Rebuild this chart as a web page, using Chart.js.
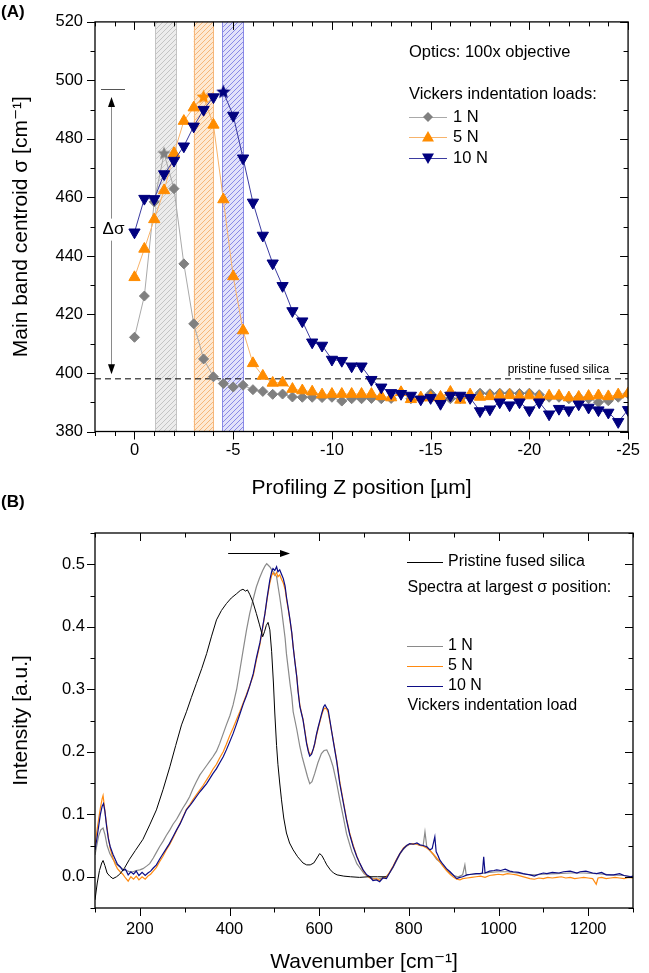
<!DOCTYPE html>
<html><head><meta charset="utf-8">
<script src="https://cdn.jsdelivr.net/npm/chart.js@4.4.1/dist/chart.umd.min.js"></script>
<style>
html,body{margin:0;padding:0;background:#fff;}
#wrap{position:relative;width:649px;height:973px;overflow:hidden;background:#fff;}
canvas{position:absolute;left:0;}
#cA{top:0;}
#cB{top:490px;}
</style></head><body>
<div id="wrap"><canvas id="cA" width="649" height="510"></canvas><canvas id="cB" width="649" height="483"></canvas></div>
<script>
// ---------- Panel A data ----------
const zA = [0,-0.5,-1,-1.5,-2,-2.5,-3,-3.5,-4,-4.5,-5,-5.5,-6,-6.5,-7,-7.5,-8,-8.5,-9,-9.5,-10,-10.5,-11,-11.5,-12,-12.5,-13,-13.5,-14,-14.5,-15,-15.5,-16,-16.5,-17,-17.5,-18,-18.5,-19,-19.5,-20,-20.5,-21,-21.5,-22,-22.5,-23,-23.5,-24,-24.5,-25];
const n1A = [412.2,426.3,458.5,475.0,463.0,437.3,416.8,404.8,398.7,396.4,395.2,395.8,394.3,393.7,392.7,392.8,391.8,391.7,391.7,391.6,391.7,390.4,391.2,391.2,391.3,391.2,391.3,393.2,391.2,391.3,392.9,391.7,391.2,391.3,391.7,393.1,392.9,393.1,393.1,393.0,393.1,392.6,391.7,391.7,391.2,391.7,391.2,390.0,390.5,391.7,392.9];
const n5A = [432.7,442.4,452.5,462.4,475.1,486.1,490.7,494.3,484.8,459.3,433.0,414.5,403.3,399.0,396.6,396.7,394.5,394.0,393.6,392.6,392.8,392.8,392.8,392.8,392.8,392.0,391.6,393.4,391.0,391.6,391.6,391.8,393.5,390.8,392.6,391.8,392.0,392.3,392.4,392.0,392.3,391.7,392.2,392.2,391.6,391.8,392.1,392.3,392.0,392.6,393.0];
const n10A = [448.1,459.6,459.5,468.0,472.6,477.5,484.3,490.0,494.3,496.0,488.0,473.4,458.3,447.0,437.5,429.8,421.2,417.7,410.5,409.4,404.6,404.2,402.3,402.3,397.7,395.1,393.2,392.9,392.3,391.0,391.5,389.5,392.3,392.3,391.5,387.0,387.6,390.0,389.0,390.0,387.3,390.0,385.9,387.8,387.3,389.3,388.2,387.3,386.5,383.3,387.4];
const peakIdxA = [3, 7, 9];            // index of the star-marked (largest sigma) point: 1 N, 5 N, 10 N
const xTicksA = [0,-5,-10,-15,-20,-25];
const yTicksA = [380,400,420,440,460,480,500,520];
const bandsA = [[-1.05,-2.1],[-3,-4],[-4.45,-5.5]];
const pristineSigma = 398;
const deltaSigma = {top: 497.2, arrowTop: 494.3, arrowBottom: 399.6, textAt: 449};

// ---------- Panel B data ([wavenumber, intensity]) ----------
const pristineB = [[100,-0.037],[105,-0.01],[110,0.01],[115,0.022],[118,0.026],[122,0.018],[127,0.006],[133,0.001],[140,-0.003],[148,0.0],[155,0.004],[165,0.013],[177,0.028],[190,0.042],[207,0.06],[222,0.083],[237,0.107],[252,0.14],[267,0.176],[280,0.21],[293,0.243],[304,0.264],[315,0.287],[326,0.309],[338,0.333],[349,0.357],[360,0.385],[371,0.411],[382,0.426],[393,0.437],[404,0.446],[416,0.453],[424,0.458],[430,0.46],[436,0.457],[440,0.459],[445,0.452],[452,0.44],[460,0.421],[467,0.403],[474,0.384],[478,0.392],[482,0.402],[486,0.407],[490,0.395],[494,0.36],[498,0.31],[501,0.262],[505,0.21],[508,0.18],[512,0.15],[516,0.123],[521,0.094],[527,0.07],[534,0.054],[542,0.043],[552,0.032],[564,0.022],[572,0.019],[580,0.019],[588,0.022],[595,0.03],[601,0.037],[606,0.034],[612,0.026],[617,0.019],[625,0.011],[632,0.006],[640,0.003],[655,0.001],[670,0.0],[690,-0.001],[710,0.0],[730,0.0],[750,0.0]];
const n1B = [[100,0.035],[104,0.05],[108,0.065],[113,0.075],[118,0.078],[122,0.068],[127,0.05],[133,0.037],[140,0.028],[148,0.02],[155,0.016],[163,0.012],[170,0.01],[177,0.008],[185,0.008],[192,0.01],[200,0.011],[207,0.013],[215,0.017],[222,0.021],[230,0.03],[237,0.039],[244,0.048],[252,0.057],[259,0.066],[267,0.075],[274,0.084],[282,0.092],[289,0.101],[296,0.11],[304,0.119],[311,0.128],[318,0.14],[326,0.152],[334,0.163],[341,0.17],[349,0.178],[356,0.185],[363,0.192],[371,0.201],[378,0.213],[386,0.229],[393,0.243],[401,0.258],[408,0.275],[416,0.3],[423,0.33],[431,0.365],[438,0.395],[445,0.421],[452,0.442],[460,0.464],[467,0.478],[474,0.49],[479,0.497],[483,0.501],[487,0.498],[491,0.495],[495,0.49],[500,0.486],[505,0.48],[508,0.466],[512,0.448],[516,0.428],[520,0.405],[524,0.382],[527,0.357],[531,0.333],[535,0.309],[539,0.288],[542,0.264],[550,0.236],[557,0.208],[562,0.192],[568,0.176],[574,0.16],[579,0.149],[584,0.152],[590,0.165],[597,0.182],[605,0.197],[611,0.202],[617,0.203],[624,0.192],[631,0.176],[639,0.15],[646,0.123],[654,0.095],[661,0.069],[668,0.052],[673,0.04],[679,0.03],[684,0.021],[691,0.014],[700,0.005],[706,0.002],[713,0.0],[720,-0.003],[730,-0.004],[740,-0.002],[750,0.0],[757,0.006],[765,0.015],[772,0.025],[780,0.036],[788,0.044],[795,0.049],[802,0.052],[810,0.053],[818,0.052],[825,0.05],[832,0.05],[836,0.072],[840,0.048],[847,0.042],[855,0.035],[862,0.028],[869,0.024],[876,0.018],[884,0.012],[892,0.006],[900,0.002],[910,0.0],[920,0.003],[925,0.019],[928,0.003],[940,0.004],[960,0.005],[980,0.007],[1000,0.008],[1020,0.008],[1040,0.006],[1060,0.004],[1080,0.003],[1100,0.004],[1130,0.005],[1160,0.006],[1190,0.006],[1220,0.005],[1250,0.003],[1280,0.002],[1300,0.0]];
const n5B = [[100,0.05],[104,0.072],[108,0.092],[112,0.11],[116,0.125],[118,0.13],[121,0.112],[125,0.088],[130,0.062],[134,0.045],[140,0.03],[145,0.02],[150,0.013],[156,0.008],[162,0.004],[168,-0.002],[174,-0.007],[180,0.0],[186,-0.004],[192,0.001],[198,-0.005],[205,0.0],[212,-0.004],[218,0.001],[224,0.004],[230,0.009],[237,0.015],[244,0.024],[251,0.032],[259,0.043],[266,0.051],[274,0.062],[282,0.074],[290,0.086],[297,0.097],[304,0.108],[312,0.116],[319,0.124],[326,0.131],[334,0.139],[341,0.146],[349,0.155],[356,0.163],[363,0.172],[371,0.18],[378,0.19],[386,0.2],[393,0.212],[400,0.225],[408,0.238],[416,0.252],[423,0.264],[431,0.279],[438,0.292],[445,0.306],[453,0.322],[460,0.347],[468,0.372],[474,0.398],[479,0.42],[484,0.445],[490,0.47],[494,0.482],[497,0.486],[501,0.482],[505,0.487],[508,0.48],[512,0.483],[516,0.476],[520,0.47],[524,0.46],[527,0.445],[531,0.428],[535,0.41],[539,0.389],[542,0.368],[546,0.344],[550,0.321],[553,0.298],[557,0.274],[561,0.261],[564,0.252],[568,0.234],[572,0.215],[576,0.202],[579,0.196],[583,0.197],[587,0.204],[590,0.212],[594,0.226],[598,0.238],[602,0.249],[606,0.26],[610,0.268],[613,0.27],[617,0.268],[620,0.263],[624,0.248],[628,0.232],[631,0.22],[639,0.187],[646,0.152],[654,0.12],[661,0.093],[668,0.07],[676,0.05],[684,0.033],[691,0.021],[698,0.01],[706,0.002],[713,-0.002],[720,-0.004],[728,-0.003],[735,-0.006],[742,-0.002],[750,0.0],[757,0.007],[765,0.017],[772,0.027],[780,0.037],[788,0.046],[795,0.05],[802,0.052],[810,0.053],[818,0.052],[825,0.05],[832,0.049],[840,0.046],[847,0.042],[855,0.036],[862,0.03],[869,0.024],[876,0.017],[884,0.01],[892,0.004],[900,-0.001],[907,-0.004],[914,-0.005],[920,-0.003],[930,-0.002],[940,-0.001],[950,0.0],[960,0.001],[970,-0.001],[980,0.002],[990,0.003],[1000,0.004],[1010,0.003],[1020,0.005],[1030,0.004],[1040,0.003],[1050,0.001],[1060,-0.001],[1070,-0.003],[1080,-0.004],[1090,-0.002],[1100,-0.003],[1110,-0.001],[1120,-0.002],[1130,-0.001],[1140,0.0],[1150,-0.002],[1160,-0.001],[1170,-0.003],[1180,-0.002],[1190,-0.001],[1200,-0.002],[1210,-0.003],[1218,-0.012],[1222,-0.002],[1230,-0.001],[1240,-0.003],[1250,-0.002],[1260,-0.001],[1270,-0.002],[1280,-0.003],[1290,-0.001],[1300,-0.002]];
const n10B = [[100,0.043],[104,0.06],[108,0.08],[112,0.1],[116,0.113],[119,0.117],[122,0.105],[126,0.08],[130,0.06],[134,0.048],[140,0.036],[145,0.028],[150,0.02],[156,0.016],[162,0.01],[168,0.012],[174,0.003],[180,0.008],[186,0.004],[192,0.009],[198,0.002],[205,0.007],[212,0.002],[218,0.006],[224,0.009],[230,0.014],[237,0.019],[244,0.028],[251,0.036],[259,0.045],[266,0.053],[274,0.064],[282,0.075],[290,0.085],[297,0.096],[304,0.107],[312,0.114],[319,0.121],[326,0.128],[334,0.136],[341,0.142],[349,0.149],[356,0.157],[363,0.165],[371,0.173],[378,0.182],[386,0.192],[393,0.203],[400,0.215],[408,0.229],[416,0.245],[423,0.26],[431,0.277],[438,0.29],[445,0.305],[453,0.325],[460,0.35],[468,0.375],[474,0.4],[479,0.421],[484,0.447],[490,0.475],[494,0.488],[497,0.493],[501,0.49],[505,0.496],[508,0.488],[512,0.491],[516,0.484],[520,0.477],[524,0.465],[527,0.448],[531,0.43],[535,0.411],[539,0.39],[542,0.368],[546,0.343],[550,0.32],[553,0.296],[557,0.272],[561,0.26],[564,0.251],[568,0.232],[572,0.213],[576,0.2],[579,0.193],[583,0.196],[587,0.205],[590,0.213],[594,0.228],[598,0.24],[602,0.251],[606,0.262],[610,0.272],[613,0.275],[617,0.27],[620,0.267],[624,0.25],[628,0.232],[631,0.219],[639,0.185],[646,0.149],[654,0.118],[661,0.091],[668,0.068],[676,0.048],[684,0.032],[691,0.021],[698,0.011],[706,0.003],[713,0.0],[720,-0.006],[728,-0.005],[735,-0.008],[742,-0.002],[750,-0.003],[757,0.006],[765,0.016],[772,0.026],[780,0.037],[788,0.045],[795,0.05],[802,0.053],[810,0.052],[818,0.054],[825,0.051],[832,0.05],[840,0.048],[847,0.043],[852,0.045],[858,0.064],[861,0.04],[865,0.034],[869,0.027],[876,0.02],[884,0.013],[892,0.008],[900,0.002],[907,-0.003],[914,-0.001],[920,0.0],[930,0.003],[940,0.004],[950,0.005],[959,0.005],[964,0.006],[967,0.032],[970,0.006],[980,0.009],[990,0.01],[996,0.011],[1005,0.01],[1015,0.012],[1025,0.009],[1033,0.008],[1045,0.007],[1055,0.005],[1070,0.003],[1080,0.001],[1090,0.004],[1100,0.006],[1108,0.005],[1120,0.007],[1135,0.006],[1145,0.008],[1160,0.009],[1175,0.006],[1182,0.008],[1195,0.009],[1210,0.006],[1219,0.005],[1230,0.007],[1240,0.003],[1257,0.003],[1270,0.005],[1280,0.002],[1294,0.0],[1300,0.001]];
const xTicksB = [200,400,600,800,1000,1200];
const yTicksB = [0.0,0.1,0.2,0.3,0.4,0.5];
const shiftArrowB = {from: 397, to: 535, level: 0.518};

// ---------- styles ----------
const FONT = "'Liberation Sans', Arial, 'DejaVu Sans', sans-serif";
Chart.defaults.font.family = FONT;
Chart.defaults.color = '#000';
const C1 = {mark:'#808080', line:'#a9a9a9', spec:'#8a8a8a'};
const C5 = {mark:'#ff8c00', line:'#f7b36b', spec:'#ff8a10'};
const C10 = {mark:'#00007f', line:'#3b3ba0', spec:'#0c0c86'};

function starImg(color, r) {
  const s = Math.ceil(r * 2 + 2), c = document.createElement('canvas');
  c.width = s; c.height = s;
  const g = c.getContext('2d');
  g.fillStyle = color; g.beginPath();
  for (let i = 0; i < 10; i++) {
    const rr = i % 2 ? r * 0.45 : r, ang = -Math.PI / 2 + i * Math.PI / 5;
    g.lineTo(s / 2 + rr * Math.cos(ang), s / 2 + rr * Math.sin(ang));
  }
  g.closePath(); g.fill();
  return c;
}
function hatchPattern(ctx, bg, line) {
  const c = document.createElement('canvas'); c.width = 5; c.height = 5;
  const g = c.getContext('2d');
  g.fillStyle = bg; g.fillRect(0, 0, 5, 5);
  g.strokeStyle = line; g.lineWidth = 1;
  g.beginPath(); g.moveTo(-1, 6); g.lineTo(6, -1); g.moveTo(-1, 1); g.lineTo(1, -1); g.moveTo(4, 6); g.lineTo(6, 4); g.stroke();
  return ctx.createPattern(c, 'repeat');
}

// frame + major/minor tick marks (bottom/left outward, top/right inward)
const frameTicks = {
  id: 'frameTicks',
  afterDraw(chart, args, o) {
    const {ctx, chartArea: a, scales: {x, y}} = chart;
    ctx.save();
    ctx.strokeStyle = '#000'; ctx.lineWidth = 1.3;
    ctx.strokeRect(a.left, a.top, a.right - a.left, a.bottom - a.top);
    ctx.lineWidth = 1;
    ctx.beginPath();
    const xs = (vals, len) => vals.forEach(v => {
      const p = Math.round(x.getPixelForValue(v)) + 0.5;
      ctx.moveTo(p, a.bottom); ctx.lineTo(p, a.bottom + len);
      ctx.moveTo(p, a.top); ctx.lineTo(p, a.top + len);
    });
    const ys = (vals, len) => vals.forEach(v => {
      const p = Math.round(y.getPixelForValue(v)) + 0.5;
      ctx.moveTo(a.left, p); ctx.lineTo(a.left - len, p);
      ctx.moveTo(a.right, p); ctx.lineTo(a.right - len, p);
    });
    xs(o.xMajor, 8); xs(o.xMinor, 4.5);
    ys(o.yMajor, 8); ys(o.yMinor, 4.5);
    ctx.stroke();
    ctx.restore();
  }
};

function range(a, b, s) { const r = []; for (let v = a; v <= b + 1e-9; v += s) r.push(+v.toFixed(4)); return r; }

// ---------- Panel A ----------
const starGray = starImg(C1.mark, 7), starOr = starImg(C5.mark, 7.5), starNavy = starImg(C10.mark, 7.5);

const annotA = {
  id: 'annotA',
  beforeDatasetsDraw(chart) {
    const {ctx, chartArea: a, scales: {x}} = chart;
    const styles = [['#ececec', '#c4c4c4'], ['#fde9d3', '#f6b77a'], ['#e2e2fa', '#8a8ae6']];
    ctx.save();
    bandsA.forEach((b, i) => {
      const x1 = x.getPixelForValue(b[0]), x2 = x.getPixelForValue(b[1]);
      ctx.fillStyle = hatchPattern(ctx, styles[i][0], styles[i][1]);
      ctx.fillRect(Math.min(x1, x2), a.top, Math.abs(x2 - x1), a.bottom - a.top);
      ctx.strokeStyle = styles[i][1]; ctx.lineWidth = 1;
      ctx.beginPath();
      ctx.moveTo(Math.round(x1) + 0.5, a.top); ctx.lineTo(Math.round(x1) + 0.5, a.bottom);
      ctx.moveTo(Math.round(x2) + 0.5, a.top); ctx.lineTo(Math.round(x2) + 0.5, a.bottom);
      ctx.stroke();
    });
    ctx.restore();
  },
  afterDatasetsDraw(chart) {
    const {ctx, chartArea: a, scales: {x, y}} = chart;
    ctx.save();
    // delta sigma annotation
    const ax = Math.round(a.left + 16) + 0.5;
    const yTop = y.getPixelForValue(deltaSigma.arrowTop), yBot = y.getPixelForValue(deltaSigma.arrowBottom);
    const yH = Math.round(y.getPixelForValue(deltaSigma.top)) + 0.5;
    ctx.strokeStyle = '#555'; ctx.lineWidth = 1;
    ctx.beginPath(); ctx.moveTo(a.left + 6, yH); ctx.lineTo(a.left + 30, yH); ctx.stroke();
    ctx.strokeStyle = '#8a8a8a';
    ctx.beginPath(); ctx.moveTo(ax, yTop + 8); ctx.lineTo(ax, yBot - 8); ctx.stroke();
    ctx.fillStyle = '#000';
    ctx.beginPath(); ctx.moveTo(ax, yTop); ctx.lineTo(ax - 3.5, yTop + 10); ctx.lineTo(ax + 3.5, yTop + 10); ctx.closePath(); ctx.fill();
    ctx.beginPath(); ctx.moveTo(ax, yBot); ctx.lineTo(ax - 3.5, yBot - 10); ctx.lineTo(ax + 3.5, yBot - 10); ctx.closePath(); ctx.fill();
    const ty = y.getPixelForValue(deltaSigma.textAt);
    ctx.font = '17px ' + FONT;
    const tw = ctx.measureText('Δσ').width;
    ctx.fillStyle = '#fff'; ctx.fillRect(ax - tw / 2 - 1, ty - 11, tw + 2, 22);
    ctx.fillStyle = '#000'; ctx.textAlign = 'center'; ctx.textBaseline = 'middle';
    ctx.fillText('Δσ', ax + 2, ty);
    // pristine label
    ctx.font = '12px ' + FONT; ctx.textAlign = 'right'; ctx.textBaseline = 'alphabetic';
    ctx.fillText('pristine fused silica', a.right - 19, y.getPixelForValue(pristineSigma) - 6);
    ctx.restore();
  },
  afterDraw(chart) {
    const {ctx} = chart;
    ctx.save();
    ctx.fillStyle = '#000'; ctx.textBaseline = 'middle'; ctx.textAlign = 'left';
    ctx.font = 'bold 17px ' + FONT;
    ctx.fillText('(A)', 1, 12);
    ctx.font = '16.5px ' + FONT;
    ctx.fillText('Optics: 100x objective', 409, 52);
    ctx.fillText('Vickers indentation loads:', 409, 94);
    const rows = [['1 N', C1, 'diamond', 117], ['5 N', C5, 'up', 137], ['10 N', C10, 'down', 158]];
    rows.forEach(([t, c, m, yy]) => {
      ctx.strokeStyle = c.line; ctx.lineWidth = 1;
      ctx.beginPath(); ctx.moveTo(409, yy + 0.5); ctx.lineTo(447, yy + 0.5); ctx.stroke();
      ctx.fillStyle = c.mark; ctx.beginPath();
      const cx = 428;
      if (m === 'diamond') { ctx.moveTo(cx, yy - 5); ctx.lineTo(cx + 5, yy); ctx.lineTo(cx, yy + 5); ctx.lineTo(cx - 5, yy); }
      else if (m === 'up') { ctx.moveTo(cx, yy - 6); ctx.lineTo(cx + 6, yy + 4.5); ctx.lineTo(cx - 6, yy + 4.5); }
      else { ctx.moveTo(cx, yy + 6); ctx.lineTo(cx + 6, yy - 4.5); ctx.lineTo(cx - 6, yy - 4.5); }
      ctx.closePath(); ctx.fill();
      ctx.fillStyle = '#000';
      ctx.fillText(t, 453, yy);
    });
    ctx.restore();
  }
};

const ptsA = arr => zA.map((z, i) => ({x: z, y: arr[i]}));
new Chart(document.getElementById('cA'), {
  type: 'line',
  data: {
    datasets: [
      {label: '10 N', data: ptsA(n10A), order: 1, borderColor: C10.line, borderWidth: 1,
       pointBackgroundColor: C10.mark, pointBorderColor: C10.mark, pointBorderWidth: 1, pointRadius: 6.5,
       pointStyle: c => c.dataIndex === peakIdxA[2] ? starNavy : 'triangle',
       pointRotation: c => c.dataIndex === peakIdxA[2] ? 0 : 180},
      {label: '5 N', data: ptsA(n5A), order: 2, borderColor: C5.line, borderWidth: 1,
       pointBackgroundColor: C5.mark, pointBorderColor: C5.mark, pointBorderWidth: 1, pointRadius: 6.5,
       pointStyle: c => c.dataIndex === peakIdxA[1] ? starOr : 'triangle'},
      {label: '1 N', data: ptsA(n1A), order: 3, borderColor: C1.line, borderWidth: 1,
       pointBackgroundColor: C1.mark, pointBorderColor: C1.mark, pointBorderWidth: 1, pointRadius: 5,
       pointStyle: c => c.dataIndex === peakIdxA[0] ? starGray : 'rectRot'},
      {label: 'pristine', data: [{x: 2, y: pristineSigma}, {x: -25, y: pristineSigma}], order: 4,
       borderColor: '#000', borderWidth: 1, borderDash: [6, 4], pointRadius: 0}
    ]
  },
  options: {
    responsive: false, animation: false, events: [],
    layout: {padding: {left: 0, right: 16, top: 21.5, bottom: 0}},
    plugins: {legend: {display: false}, tooltip: {enabled: false},
      frameTicks: {xMajor: xTicksA, xMinor: range(-25, 2, 1).filter(v => v % 5 !== 0),
                   yMajor: yTicksA, yMinor: range(390, 510, 20)}},
    scales: {
      x: {type: 'linear', reverse: true, min: -25, max: 2,
          afterBuildTicks: s => { s.ticks = xTicksA.map(v => ({value: v})); },
          afterFit: s => { s.height = 78.5; },
          grid: {display: false, drawTicks: false}, border: {display: false},
          ticks: {padding: 9, font: {size: 16.5}, color: '#000', maxRotation: 0, callback: v => String(v)},
          title: {display: true, text: 'Profiling Z position [µm]', font: {size: 21}, color: '#000', padding: {top: 0, bottom: 9}}},
      y: {type: 'linear', min: 380, max: 520,
          afterBuildTicks: s => { s.ticks = yTicksA.map(v => ({value: v})); },
          afterFit: s => { s.width = 95; },
          grid: {display: false, drawTicks: false}, border: {display: false},
          ticks: {padding: 12, font: {size: 16.5}, color: '#000', callback: v => String(v)},
          title: {display: true, text: 'Main band centroid σ [cm⁻¹]', font: {size: 21}, color: '#000', padding: {top: 9, bottom: 0}}}
    }
  },
  plugins: [frameTicks, annotA]
});

// ---------- Panel B ----------
const annotB = {
  id: 'annotB',
  afterDraw(chart) {
    const {ctx, scales: {x, y}} = chart;
    ctx.save();
    // shift arrow
    const x1 = x.getPixelForValue(shiftArrowB.from), x2 = x.getPixelForValue(shiftArrowB.to);
    const yy = Math.round(y.getPixelForValue(shiftArrowB.level)) + 0.5;
    ctx.strokeStyle = '#000'; ctx.fillStyle = '#000'; ctx.lineWidth = 1;
    ctx.beginPath(); ctx.moveTo(x1, yy); ctx.lineTo(x2 - 8, yy); ctx.stroke();
    ctx.beginPath(); ctx.moveTo(x2, yy); ctx.lineTo(x2 - 10, yy - 3.5); ctx.lineTo(x2 - 10, yy + 3.5); ctx.closePath(); ctx.fill();
    // labels
    ctx.textBaseline = 'middle'; ctx.textAlign = 'left';
    ctx.font = 'bold 17px ' + FONT;
    ctx.fillText('(B)', 1, 12);
    ctx.font = '16px ' + FONT;
    const rows = [['Pristine fused silica', '#000', 71.7], ['1 N', C1.spec, 156], ['5 N', C5.spec, 176], ['10 N', C10.spec, 196]];
    rows.forEach(([t, c, ry]) => {
      ctx.strokeStyle = c; ctx.lineWidth = 1;
      ctx.beginPath(); ctx.moveTo(407, Math.round(ry) + 0.5); ctx.lineTo(443, Math.round(ry) + 0.5); ctx.stroke();
      ctx.fillStyle = '#000'; ctx.fillText(t, 448, ry);
    });
    ctx.fillText('Spectra at largest σ position:', 407.5, 98);
    ctx.fillText('Vickers indentation load', 407.5, 216);
    ctx.restore();
  }
};

const ptsB = arr => arr.map(p => ({x: p[0], y: p[1]}));
new Chart(document.getElementById('cB'), {
  type: 'line',
  data: {
    datasets: [
      {label: 'Pristine fused silica', data: ptsB(pristineB), order: 0, borderColor: '#000', borderWidth: 1, pointRadius: 0},
      {label: '10 N', data: ptsB(n10B), order: 1, borderColor: C10.spec, borderWidth: 1.2, pointRadius: 0},
      {label: '5 N', data: ptsB(n5B), order: 2, borderColor: C5.spec, borderWidth: 1.2, pointRadius: 0},
      {label: '1 N', data: ptsB(n1B), order: 3, borderColor: C1.spec, borderWidth: 1.2, pointRadius: 0}
    ]
  },
  options: {
    responsive: false, animation: false, events: [],
    layout: {padding: {left: 0, right: 16, top: 43, bottom: 0}},
    plugins: {legend: {display: false}, tooltip: {enabled: false},
      frameTicks: {xMajor: xTicksB, xMinor: range(100, 1300, 200),
                   yMajor: yTicksB, yMinor: range(-0.05, 0.55, 0.1)}},
    scales: {
      x: {type: 'linear', min: 100, max: 1300,
          afterBuildTicks: s => { s.ticks = xTicksB.map(v => ({value: v})); },
          afterFit: s => { s.height = 65; },
          grid: {display: false, drawTicks: false}, border: {display: false},
          ticks: {padding: 11.5, font: {size: 16.5}, color: '#000', maxRotation: 0, callback: v => String(v)},
          title: {display: true, text: 'Wavenumber [cm⁻¹]', font: {size: 21, lineHeight: 1}, color: '#000', padding: {top: 0, bottom: 0}}},
      y: {type: 'linear', min: -0.05, max: 0.55,
          afterBuildTicks: s => { s.ticks = yTicksB.map(v => ({value: v})); },
          afterFit: s => { s.width = 95; },
          grid: {display: false, drawTicks: false}, border: {display: false},
          ticks: {padding: 10, font: {size: 16.5}, color: '#000', callback: v => Number(v).toFixed(1)},
          title: {display: true, text: 'Intensity [a.u.]', font: {size: 21}, color: '#000', padding: {top: 9, bottom: 0}}}
    }
  },
  plugins: [frameTicks, annotB]
});
</script>
</body></html>
